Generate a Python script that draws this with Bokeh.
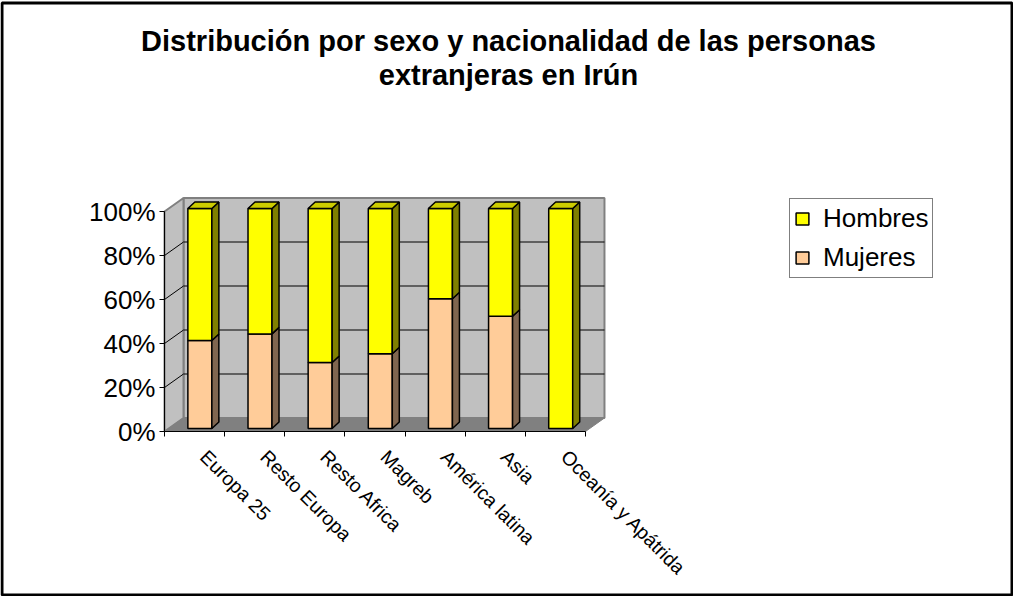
import math
from bokeh.plotting import figure
from bokeh.models import Range1d, LinearAxis, FixedTicker, Legend, LegendItem
from bokeh.core.properties import value
from bokeh.embed import file_html
from bokeh.resources import INLINE

# ---------------- data ----------------
title_lines = ["Distribución por sexo y nacionalidad de las personas",
               "extranjeras en Irún"]
categories = ["Europa 25", "Resto Europa", "Resto Africa", "Magreb",
              "América latina", "Asia", "Oceanía y Apátrida"]
mujeres = [40, 43, 30, 34, 59, 51, 0]
hombres = [60, 57, 70, 66, 41, 49, 100]
y_ticks = [0, 20, 40, 60, 80, 100]
y_tick_labels = ["0%", "20%", "40%", "60%", "80%", "100%"]
series_names = ["Hombres", "Mujeres"]

# ---------------- geometry (screen mapping) ----------------
W, H = 1013, 596
OX, OY = 0, 0            # canvas position in page
XS, YS = 60.14, 2.2      # px per category, px per percent
AX0, AY0 = 164, 431      # front-axis origin on screen

def ux(X):
    return (X - AX0) / XS - 0.5

def py(Y):
    return (AY0 - Y) / YS

n = len(categories)
right = n - 0.5
DU, DP = 19 / XS, 13.5 / YS          # wall depth
BW = 24 / XS                          # bar width
BOU, BOP = 5.3 / XS, 3 / YS           # bar front offset
BDU, BDP = 7 / XS, 6.5 / YS           # bar depth

p = figure(width=W, height=H, output_backend="svg", toolbar_location=None,
           x_range=Range1d(ux(OX), ux(OX + W)),
           y_range=Range1d(py(OY + H), py(OY)),
           x_axis_type=None, y_axis_type=None, min_border=0,
           outline_line_color=None, background_fill_color="white",
           border_fill_color="white")
p.grid.visible = False

# walls
p.patches(xs=[[-0.5 + DU, right + DU, right + DU, -0.5 + DU]],
          ys=[[DP, DP, 100 + DP, 100 + DP]],
          fill_color="#C0C0C0", line_color="#808080", line_width=2)
p.patches(xs=[[-0.5, -0.5 + DU, -0.5 + DU, -0.5]],
          ys=[[0, DP, 100 + DP, 100]],
          fill_color="#C0C0C0", line_color="#808080", line_width=2)
p.patches(xs=[[-0.5, right, right + DU, -0.5 + DU]],
          ys=[[0, 0, DP, DP]],
          fill_color="#808080", line_color="#808080", line_width=1)

# gridlines
gx, gy = [], []
for t in y_ticks[1:-1]:
    gx.append([-0.5, -0.5 + DU, right + DU])
    gy.append([t, t + DP, t + DP])
p.multi_line(xs=gx, ys=gy, line_color="black", line_width=1)

# bars
def faces(lo_list, hi_list):
    fx, fy, sx_, sy_, tx, ty = [], [], [], [], [], []
    for i, (lo, hi) in enumerate(zip(lo_list, hi_list)):
        if hi - lo <= 0:
            continue
        x0 = i + BOU - BW / 2
        x1 = x0 + BW
        y0 = lo + BOP
        y1 = hi + BOP
        fx.append([x0, x1, x1, x0]); fy.append([y0, y0, y1, y1])
        sx_.append([x1, x1 + BDU, x1 + BDU, x1])
        sy_.append([y0, y0 + BDP, y1 + BDP, y1])
        tx.append([x0, x1, x1 + BDU, x0 + BDU])
        ty.append([y1, y1, y1 + BDP, y1 + BDP])
    return fx, fy, sx_, sy_, tx, ty

tot = [m + h for m, h in zip(mujeres, hombres)]
m_pct = [m / t * 100 for m, t in zip(mujeres, tot)]
h_top = [100.0] * n

mfx, mfy, msx, msy, _, _ = faces([0] * n, m_pct)
hfx, hfy, hsx, hsy, htx, hty = faces(m_pct, h_top)

r_m = p.patches(xs=mfx, ys=mfy, fill_color="#FFCC99", line_color="black", line_width=1.5)
p.patches(xs=msx, ys=msy, fill_color="#806650", line_color="black", line_width=1.5)
r_h = p.patches(xs=hfx, ys=hfy, fill_color="#FFFF00", line_color="black", line_width=1.5)
p.patches(xs=hsx, ys=hsy, fill_color="#808000", line_color="black", line_width=1.5)
p.patches(xs=htx, ys=hty, fill_color="#CCCC00", line_color="black", line_width=1.5)

# axes
yax = LinearAxis(fixed_location=-0.5, ticker=FixedTicker(ticks=y_ticks),
                 bounds=(0, 100),
                 major_label_overrides={t: l for t, l in zip(y_ticks, y_tick_labels)})
yax.major_tick_out = 5
yax.major_tick_in = 0
yax.minor_tick_line_color = None
yax.axis_line_color = "black"
yax.major_tick_line_color = "black"
yax.major_label_text_font = "Liberation Sans"
yax.major_label_text_font_size = "26px"
yax.major_label_text_color = "black"
yax.major_label_standoff = 4
p.add_layout(yax, "left")

xax = LinearAxis(fixed_location=0,
                 ticker=FixedTicker(ticks=[], minor_ticks=[i - 0.5 for i in range(n + 1)]),
                 bounds=(-0.5, right))
xax.major_tick_line_color = None
xax.minor_tick_out = 5
xax.minor_tick_in = 0
xax.minor_tick_line_color = "black"
xax.axis_line_color = "black"
p.add_layout(xax, "below")

# category labels
p.text(x=[i + 17 / XS for i in range(n)], y=[py(445)] * n, text=categories,
       angle=-math.pi / 4, text_align="left", text_baseline="top",
       text_font=value("Liberation Sans"), text_font_size="19.5px", text_color="black")

# title
p.text(x=[ux(508)] * 2, y=[py(40), py(74)], text=title_lines,
       text_align="center", text_baseline="middle",
       text_font=value("Liberation Sans"), text_font_style="bold",
       text_font_size="29px", text_color="black")

# legend
legend = Legend(items=[LegendItem(label=series_names[0], renderers=[r_h]),
                       LegendItem(label=series_names[1], renderers=[r_m])],
                location=(789 - OX, (OY + H) - 278),
                glyph_width=16, glyph_height=15, label_standoff=13,
                padding=4, spacing=8, margin=0,
                label_text_font="Liberation Sans", label_text_font_size="26px",
                label_text_color="black",
                border_line_color="black", border_line_width=1,
                background_fill_color="white", background_fill_alpha=1)
p.add_layout(legend)

# chart border
p.quad(left=[ux(1.5)], right=[ux(1011.5)],
       top=[py(2.5)], bottom=[py(594.5)],
       fill_color=None, line_color="black", line_width=3)

open("out.html", "w").write(file_html(p, INLINE))
